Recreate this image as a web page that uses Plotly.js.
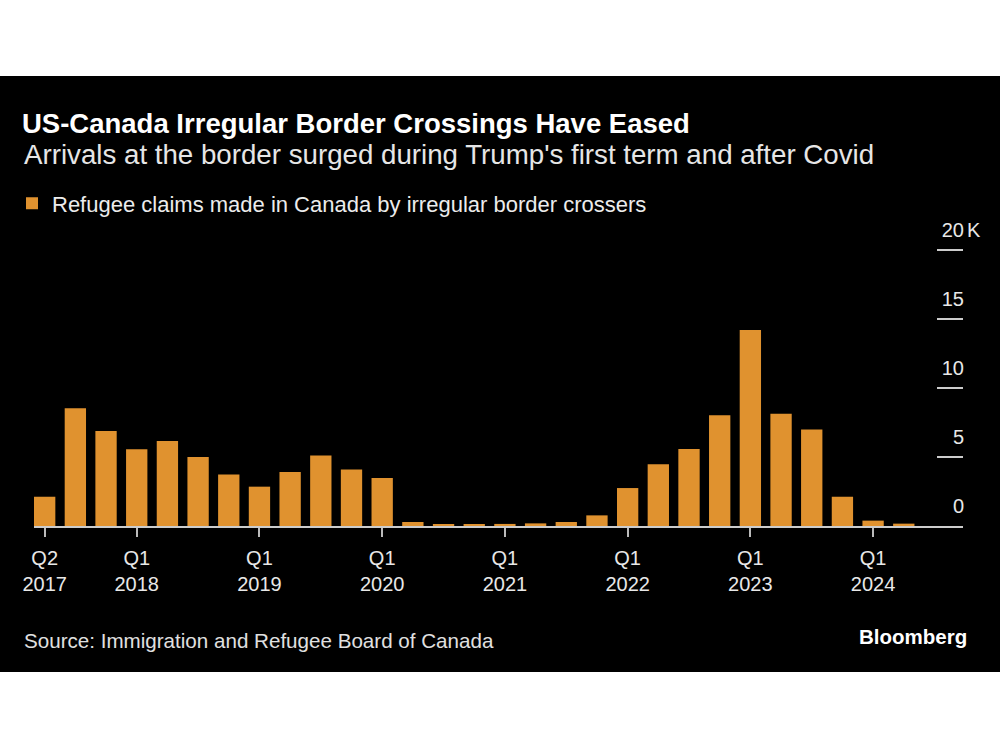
<!DOCTYPE html>
<html><head><meta charset="utf-8">
<script src="https://cdn.plot.ly/plotly-3.0.1.min.js"></script>
<style>html,body{margin:0;padding:0;background:#fff;width:1000px;height:750px;overflow:hidden;} #chart{position:absolute;left:0;top:76px;width:1000px;height:596px;}</style>
</head><body><div id="chart"></div>
<script>
const quarters = ["2017 Q2","2017 Q3","2017 Q4",
  "2018 Q1","2018 Q2","2018 Q3","2018 Q4",
  "2019 Q1","2019 Q2","2019 Q3","2019 Q4",
  "2020 Q1","2020 Q2","2020 Q3","2020 Q4",
  "2021 Q1","2021 Q2","2021 Q3","2021 Q4",
  "2022 Q1","2022 Q2","2022 Q3","2022 Q4",
  "2023 Q1","2023 Q2","2023 Q3","2023 Q4",
  "2024 Q1","2024 Q2"];
const claims = [2120, 8530, 6880,
  5560, 6160, 5000, 3740,
  2850, 3910, 5100, 4100,
  3480, 290, 120, 140,
  150, 190, 290, 770,
  2750, 4470, 5580, 8020,
  14200, 8140, 7000, 2120,
  390, 170];
const seriesName = "Refugee claims made in Canada by irregular border crossers";
const xTickVals = ["2017 Q2","2018 Q1","2019 Q1","2020 Q1","2021 Q1","2022 Q1","2023 Q1","2024 Q1"];
const xTickText = ["Q2<br>2017","Q1<br>2018","Q1<br>2019","Q1<br>2020","Q1<br>2021","Q1<br>2022","Q1<br>2023","Q1<br>2024"];
const yTickVals = [0, 5000, 10000, 15000, 20000];
const yTickText = ["0", "5", "10", "15", "20"];
const yUnit = "K";
const titleText = "US-Canada Irregular Border Crossings Have Eased";
const subtitleText = "Arrivals at the border surged during Trump's first term and after Covid";
const sourceText = "Source: Immigration and Refugee Board of Canada";
const brandText = "Bloomberg";

const FONT = '"Liberation Sans", Arial, Helvetica, sans-serif';
const ORANGE = '#e0922f';

const trace = {
  type: 'bar',
  x: quarters,
  y: claims,
  name: seriesName,
  marker: {color: ORANGE},
  hoverinfo: 'x+y'
};

const layout = {
  width: 1000, height: 596,
  paper_bgcolor: '#000', plot_bgcolor: '#000',
  margin: {l: 34, r: 37, t: 136, b: 146, pad: 0, autoexpand: false},
  font: {family: FONT, color: '#ffffff'},
  title: {
    text: '<b>' + titleText + '</b>',
    font: {family: FONT, size: 27.5, color: '#ffffff'},
    x: 0.022, xref: 'container', xanchor: 'left',
    y: 0.920, yref: 'container', yanchor: 'middle'
  },
  bargap: 0.305,
  showlegend: true,
  legend: {
    orientation: 'h',
    x: 0.012, xref: 'container', xanchor: 'left',
    y: 0.786, yref: 'container', yanchor: 'middle',
    font: {family: FONT, size: 22, color: '#ececec'},
    bgcolor: 'rgba(0,0,0,0)',
    itemclick: false, itemdoubleclick: false
  },
  xaxis: {
    type: 'category',
    range: [-0.348, 29.93],
    tickmode: 'array', tickvals: xTickVals, ticktext: xTickText,
    ticks: 'outside', ticklen: 9, tickwidth: 1.5, tickcolor: '#bbbbbb',
    ticklabelstandoff: 4,
    showline: true, linecolor: '#cccccc', linewidth: 2,
    showgrid: false, zeroline: false, automargin: false,
    tickfont: {family: FONT, size: 20, color: '#e8e8e8'},
    fixedrange: true
  },
  yaxis: {
    range: [0, 22754],
    side: 'right',
    tickmode: 'array', tickvals: yTickVals, ticktext: yTickText,
    ticks: 'inside', ticklen: 26, tickwidth: 1.5, tickcolor: '#cccccc',
    ticklabelposition: 'inside',
    ticklabelshift: -20,
    ticklabelstandoff: -26,
    showgrid: false, zeroline: false, showline: false, automargin: false,
    tickfont: {family: FONT, size: 20, color: '#e8e8e8'},
    fixedrange: true
  },
  annotations: [
    {text: subtitleText, xref: 'paper', yref: 'paper', x: -0.0129, y: 1.1834,
     xanchor: 'left', yanchor: 'middle', showarrow: false,
     font: {family: FONT, size: 27.7, color: '#e6e6e6'}},
    {text: sourceText, xref: 'paper', yref: 'paper', x: -0.0129, y: -0.364,
     xanchor: 'left', yanchor: 'middle', showarrow: false,
     font: {family: FONT, size: 20.6, color: '#e0e0e0'}},
    {text: '<b>' + brandText + '</b>', xref: 'paper', yref: 'paper', x: 1.0065, y: -0.353,
     xanchor: 'right', yanchor: 'middle', showarrow: false,
     font: {family: FONT, size: 20.5, color: '#ffffff'}},
    {text: yUnit, xref: 'paper', yref: 'y', x: 1.0022, y: yTickVals[yTickVals.length - 1],
     yshift: 20, xanchor: 'left', yanchor: 'middle', showarrow: false,
     font: {family: FONT, size: 20, color: '#e8e8e8'}}
  ]
};

Plotly.newPlot('chart', [trace], layout, {displayModeBar: false, staticPlot: false, responsive: false});
</script>
</body></html>
